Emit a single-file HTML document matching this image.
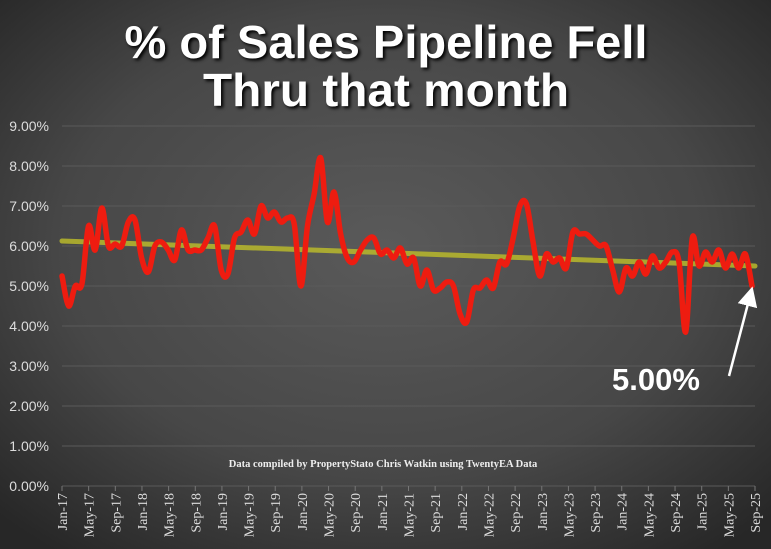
<!DOCTYPE html>
<html><head><meta charset="utf-8"><style>
html,body{margin:0;padding:0;width:771px;height:549px;overflow:hidden;background:#3a3a3a}
</style></head><body>
<svg id="s" width="771" height="549" xmlns="http://www.w3.org/2000/svg">
<defs>
<radialGradient id="bg" cx="50%" cy="45%" r="70%">
<stop offset="0" stop-color="#5a5a5a"/><stop offset="0.6" stop-color="#474747"/><stop offset="1" stop-color="#272727"/>
</radialGradient>
<marker id="ah" markerWidth="8" markerHeight="8" refX="4" refY="4" orient="auto"><path d="M0,0 L8,4 L0,8 z" fill="#fff"/></marker>
</defs>
<rect width="771" height="549" fill="url(#bg)"/>
<g font-family="Liberation Sans, sans-serif" font-weight="bold" font-size="46" fill="#fff" text-anchor="middle" style="text-shadow:2px 2px 3px #000">
<text x="386" y="58" textLength="523" lengthAdjust="spacingAndGlyphs">% of Sales Pipeline Fell</text>
<text x="386" y="106" textLength="366" lengthAdjust="spacingAndGlyphs">Thru that month</text>
</g>
<g id="grid"></g>
<g id="labels" font-family="Liberation Sans, sans-serif" font-size="14" fill="#ddd" text-anchor="end"></g>
<g id="xl" font-family="Liberation Serif, serif" font-size="14" fill="#ddd" text-anchor="end"></g>
<text x="383" y="467" font-family="Liberation Serif, serif" font-size="10.5" font-weight="bold" fill="#eee" text-anchor="middle">Data compiled by PropertyStato Chris Watkin using TwentyEA Data</text>
<line x1="62" y1="241" x2="755" y2="266" stroke="#b8b82c" stroke-opacity="0.85" stroke-width="5" stroke-linecap="round"/>
<path id="ln" fill="none" stroke="#ee1c10" stroke-width="5.5" stroke-linejoin="round" stroke-linecap="round"/>
<text x="612" y="390" font-family="Liberation Sans, sans-serif" font-weight="bold" font-size="31" fill="#fff">5.00%</text>
<line x1="729" y1="376" x2="750" y2="296" stroke="#fff" stroke-width="2.5" marker-end="url(#ah)"/>
</svg>
<script>
var NS="http://www.w3.org/2000/svg";
function el(t,a,p,txt){var e=document.createElementNS(NS,t);for(var k in a)e.setAttribute(k,a[k]);if(txt)e.textContent=txt;document.getElementById(p).appendChild(e);}
for(var i=0;i<=9;i++){var y=486-40*i;el('line',{x1:62,x2:755,y1:y,y2:y,stroke:'#5a5a5a','stroke-width':1},'grid');el('text',{x:49,y:y+5},'labels',i.toFixed(2)+'%');}
var m=['Jan','May','Sep'],X0=62,dx=693/104;
for(var k=0;k<=26;k++){var mo=k*4,x=X0+mo*dx,yr=17+Math.floor(mo/12);var lab=m[k%3]+'-'+yr;
el('line',{x1:x,x2:x,y1:486,y2:491,stroke:'#777'},'grid');
el('text',{x:0,y:0,transform:'translate('+(x+5)+',493) rotate(-90)'},'xl',lab);}
var v=[5.25,4.5,5.0,5.05,6.5,5.9,6.95,6.0,6.05,6.0,6.6,6.65,5.7,5.35,6.0,6.1,5.9,5.65,6.4,5.9,5.9,5.9,6.2,6.5,5.4,5.3,6.2,6.35,6.65,6.3,7.0,6.7,6.85,6.6,6.7,6.55,5.0,6.5,7.3,8.2,6.6,7.35,6.3,5.7,5.6,5.9,6.15,6.2,5.8,5.9,5.7,5.95,5.55,5.7,5.0,5.4,4.9,4.95,5.1,5.0,4.3,4.1,4.9,4.95,5.15,4.95,5.6,5.55,6.2,7.0,7.05,6.1,5.25,5.8,5.6,5.7,5.45,6.35,6.3,6.3,6.15,6.0,6.0,5.4,4.85,5.45,5.25,5.6,5.3,5.75,5.45,5.6,5.85,5.6,3.85,6.2,5.5,5.85,5.6,5.9,5.45,5.8,5.45,5.8,5.0];
var P=v.map(function(a,i){return [X0+i*dx*(690/693),486-40*a]});
var d='M'+P[0][0]+','+P[0][1];
for(var i=0;i<P.length-1;i++){var p0=P[Math.max(i-1,0)],p1=P[i],p2=P[i+1],p3=P[Math.min(i+2,P.length-1)];
d+=' C'+(p1[0]+(p2[0]-p0[0])/6)+','+(p1[1]+(p2[1]-p0[1])/6)+' '+(p2[0]-(p3[0]-p1[0])/6)+','+(p2[1]-(p3[1]-p1[1])/6)+' '+p2[0]+','+p2[1];}
document.getElementById('ln').setAttribute('d',d);
</script>
</body></html>
